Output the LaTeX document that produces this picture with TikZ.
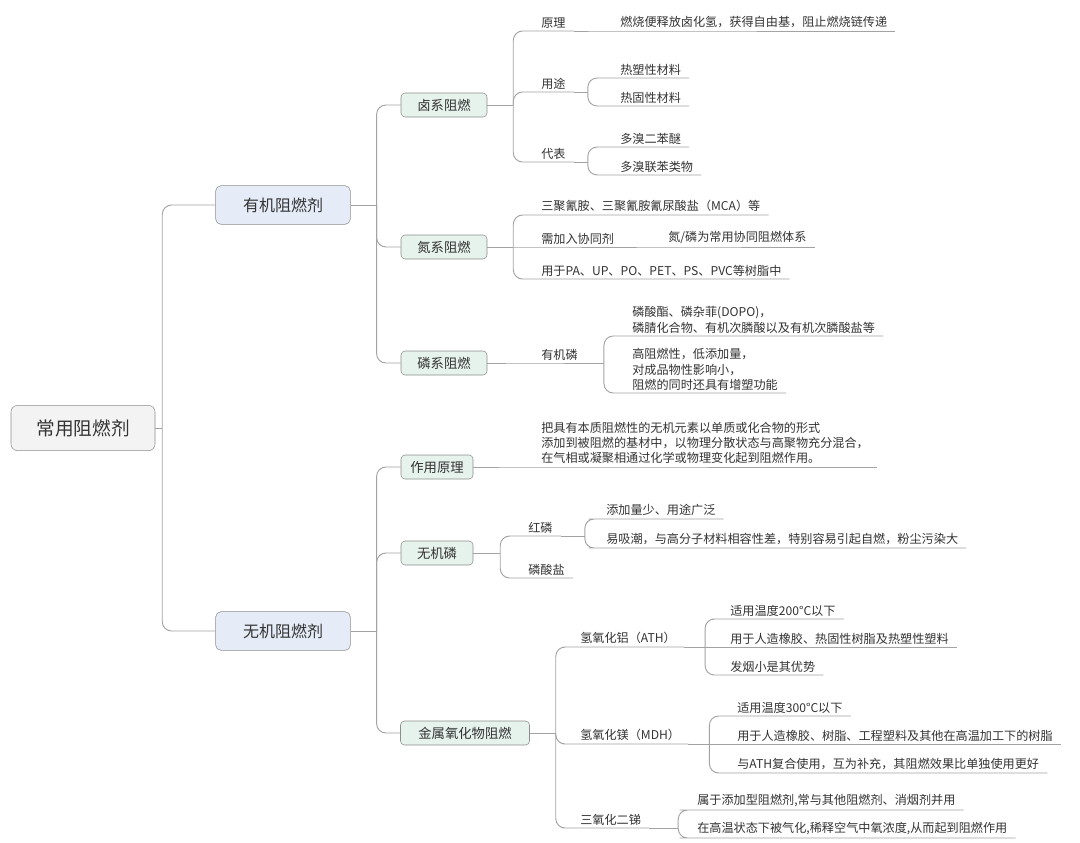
\documentclass[tikz,border=0pt]{standalone}
\usepackage{fontspec}
\setmainfont{Noto Sans CJK SC}
\definecolor{linegray}{HTML}{A3A3A3}
\definecolor{boxgray}{HTML}{8E8E8E}
\definecolor{txtgray}{HTML}{333333}
\definecolor{rootfill}{HTML}{F3F3F3}
\definecolor{bluefill}{HTML}{E5ECF7}
\definecolor{greenfill}{HTML}{E6F2EC}

\begin{document}
\begin{tikzpicture}[x=0.75pt, y=-0.75pt,
	link/.style={draw=linegray, line width=0.7pt, rounded corners=7pt},
	rootbox/.style={draw=boxgray, fill=rootfill, rounded corners=5pt, minimum width=108pt, minimum height=34pt, font=\fontsize{14}{16}\selectfont, text=txtgray},
	mainbox/.style={draw=boxgray, fill=bluefill, rounded corners=4pt, minimum width=101pt, minimum height=29pt, font=\fontsize{12}{14}\selectfont, text=txtgray},
	subbox/.style={draw=boxgray, fill=greenfill, rounded corners=3pt, minimum width=54pt, minimum height=18pt, font=\fontsize{10}{12}\selectfont, text=txtgray},
	leaf/.style={anchor=south west, inner xsep=6pt, inner ysep=2pt, align=left, font=\fontsize{9.1}{11.3}\selectfont, text=txtgray}]
	\useasboundingbox (0,0) rectangle (1080,842);
	\fill[white] (0,0) rectangle (1080,842);
	
	\node[rootbox] (root) at (83,428) {常用阻燃剂};
	\node[mainbox] (org) at (283,205) {有机阻燃剂};
	\node[mainbox] (inorg) at (283,631) {无机阻燃剂};
	
	\node[subbox, minimum width=64.5pt] (hal) at (444,105) {卤系阻燃};
	\node[subbox, minimum width=64.5pt] (nit) at (444,247) {氮系阻燃};
	\node[subbox, minimum width=64.5pt] (pho) at (444,363) {磷系阻燃};
	\node[subbox] (zyyl) at (437,467) {作用原理};
	\node[subbox] (wjl) at (437,553) {无机磷};
	\node[subbox, minimum width=96.75pt] (jsy) at (465,733) {金属氧化物阻燃};
	
	\node[leaf] (yl) at (533,31) {原理};
	\node[leaf] (ylx) at (612,31) {燃烧便释放卤化氢，获得自由基，阻止燃烧链传递};
	\node[leaf] (yt) at (533,92) {用途};
	\node[leaf] (rsx) at (612,78) {热塑性材料};
	\node[leaf] (rgx) at (612,106) {热固性材料};
	\node[leaf] (db) at (533,162) {代表};
	\node[leaf] (dbm) at (612,147) {多溴二苯醚};
	\node[leaf] (dbl) at (612,175) {多溴联苯类物};
	
	\node[leaf] (mca) at (533,215) {三聚氰胺、三聚氰胺氰尿酸盐（MCA）等};
	\node[leaf] (xtj) at (533,247) {需加入协同剂};
	\node[leaf] (dlt) at (660,247) {氮/磷为常用协同阻燃体系};
	\node[leaf] (pvc) at (533,279) {用于PA、UP、PO、PET、PS、PVC等树脂中};
	
	\node[leaf] (yjl) at (533,363) {有机磷};
	\node[leaf] (dopo) at (624,336) {磷酸酯、磷杂菲(DOPO)，\\磷腈化合物、有机次膦酸以及有机次膦酸盐等};
	\node[leaf] (gzr) at (624,393) {高阻燃性，低添加量，\\对成品物性影响小，\\阻燃的同时还具有增塑功能};
	
	\node[leaf] (jz) at (533,467) {把具有本质阻燃性的无机元素以单质或化合物的形式\\添加到被阻燃的基材中，以物理分散状态与高聚物充分混合，\\在气相或凝聚相通过化学或物理变化起到阻燃作用。};
	
	\node[leaf] (hl) at (520,536) {红磷};
	\node[leaf] (lsy) at (520,578) {磷酸盐};
	\node[leaf] (tjl) at (598,519) {添加量少、用途广泛};
	\node[leaf] (yxc) at (598,548) {易吸潮，与高分子材料相容性差，特别容易引起自燃，粉尘污染大};
	
	\node[leaf] (ath) at (572,647) {氢氧化铝（ATH）};
	\node[leaf] (ath1) at (722,619) {适用温度200°C以下};
	\node[leaf] (ath2) at (722,647) {用于人造橡胶、热固性树脂及热塑性塑料};
	\node[leaf] (ath3) at (722,675) {发烟小是其优势};
	\node[leaf] (mdh) at (572,744) {氢氧化镁（MDH）};
	\node[leaf] (mdh1) at (729,716) {适用温度300°C以下};
	\node[leaf] (mdh2) at (729,744) {用于人造橡胶、树脂、工程塑料及其他在高温加工下的树脂};
	\node[leaf] (mdh3) at (729,773) {与ATH复合使用，互为补充，其阻燃效果比单独使用更好};
	\node[leaf] (sb) at (572,828) {三氧化二锑};
	\node[leaf] (sb1) at (689,810) {属于添加型阻燃剂,常与其他阻燃剂、消烟剂并用};
	\node[leaf] (sb2) at (689,838) {在高温状态下被气化,稀释空气中氧浓度,从而起到阻燃作用};
	
	\draw[link] (root.east) -- ++(7,0) coordinate (rootfork);
	\draw[link] (rootfork) |- (org.west);
	\draw[link] (rootfork) |- (inorg.west);
	
	\draw[link] (org.east) -- ++(26,0) coordinate (orgfork);
	\draw[link] (orgfork) |- (hal.west);
	\draw[link] (orgfork) |- (nit.west);
	\draw[link] (orgfork) |- (pho.west);
	\draw[link] (inorg.east) -- ++(26,0) coordinate (inorgfork);
	\draw[link] (inorgfork) |- (zyyl.west);
	\draw[link] (inorgfork) |- (wjl.west);
	\draw[link] (inorgfork) |- (jsy.west);
	
	\draw[link] (hal.east) -- ++(26,0) coordinate (halfork);
	\draw[link] (halfork) |- (yl.south west) -- (yl.south east);
	\draw[link] (halfork) |- (yt.south west) -- (yt.south east);
	\draw[link] (halfork) |- (db.south west) -- (db.south east);
	\draw[link] (yl.south east) -- (ylx.south west) -- (ylx.south east);
	\draw[link] (yt.south east) -- ++(14,0) coordinate (ytfork);
	\draw[link] (ytfork) |- (rsx.south west) -- (rsx.south east);
	\draw[link] (ytfork) |- (rgx.south west) -- (rgx.south east);
	\draw[link] (db.south east) -- ++(14,0) coordinate (dbfork);
	\draw[link] (dbfork) |- (dbm.south west) -- (dbm.south east);
	\draw[link] (dbfork) |- (dbl.south west) -- (dbl.south east);
	
	\draw[link] (nit.east) -- ++(26,0) coordinate (nitfork);
	\draw[link] (nitfork) |- (mca.south west) -- (mca.south east);
	\draw[link] (nit.east) -- (xtj.south west) -- (xtj.south east);
	\draw[link] (nitfork) |- (pvc.south west) -- (pvc.south east);
	\draw[link] (xtj.south east) -- (dlt.south west) -- (dlt.south east);
	
	\draw[link] (pho.east) -- (yjl.south west) -- (yjl.south east);
	\draw[link] (yjl.south east) -- ++(18,0) coordinate (yjlfork);
	\draw[link] (yjlfork) |- (dopo.south west) -- (dopo.south east);
	\draw[link] (yjlfork) |- (gzr.south west) -- (gzr.south east);
	
	\draw[link] (zyyl.east) -- (jz.south west) -- (jz.south east);
	
	\draw[link] (wjl.east) -- ++(27,0) coordinate (wjlfork);
	\draw[link] (wjlfork) |- (hl.south west) -- (hl.south east);
	\draw[link] (wjlfork) |- (lsy.south west) -- (lsy.south east);
	\draw[link] (hl.south east) -- ++(24,0) coordinate (hlfork);
	\draw[link] (hlfork) |- (tjl.south west) -- (tjl.south east);
	\draw[link] (hlfork) |- (yxc.south west) -- (yxc.south east);
	
	\draw[link] (jsy.east) -- ++(26,0) coordinate (jsyfork);
	\draw[link] (jsyfork) |- (ath.south west) -- (ath.south east);
	\draw[link] (jsyfork) |- (mdh.south west) -- (mdh.south east);
	\draw[link] (jsyfork) |- (sb.south west) -- (sb.south east);
	\draw[link] (ath.south east) -- ++(21,0) coordinate (athfork);
	\draw[link] (athfork) |- (ath1.south west) -- (ath1.south east);
	\draw[link] (ath.south east) -- (ath2.south west) -- (ath2.south east);
	\draw[link] (athfork) |- (ath3.south west) -- (ath3.south east);
	\draw[link] (mdh.south east) -- ++(21,0) coordinate (mdhfork);
	\draw[link] (mdhfork) |- (mdh1.south west) -- (mdh1.south east);
	\draw[link] (mdh.south east) -- (mdh2.south west) -- (mdh2.south east);
	\draw[link] (mdhfork) |- (mdh3.south west) -- (mdh3.south east);
	\draw[link] (sb.south east) -- ++(29,0) coordinate (sbfork);
	\draw[link] (sbfork) |- (sb1.south west) -- (sb1.south east);
	\draw[link] (sbfork) |- (sb2.south west) -- (sb2.south east);

\end{tikzpicture}
\end{document}
